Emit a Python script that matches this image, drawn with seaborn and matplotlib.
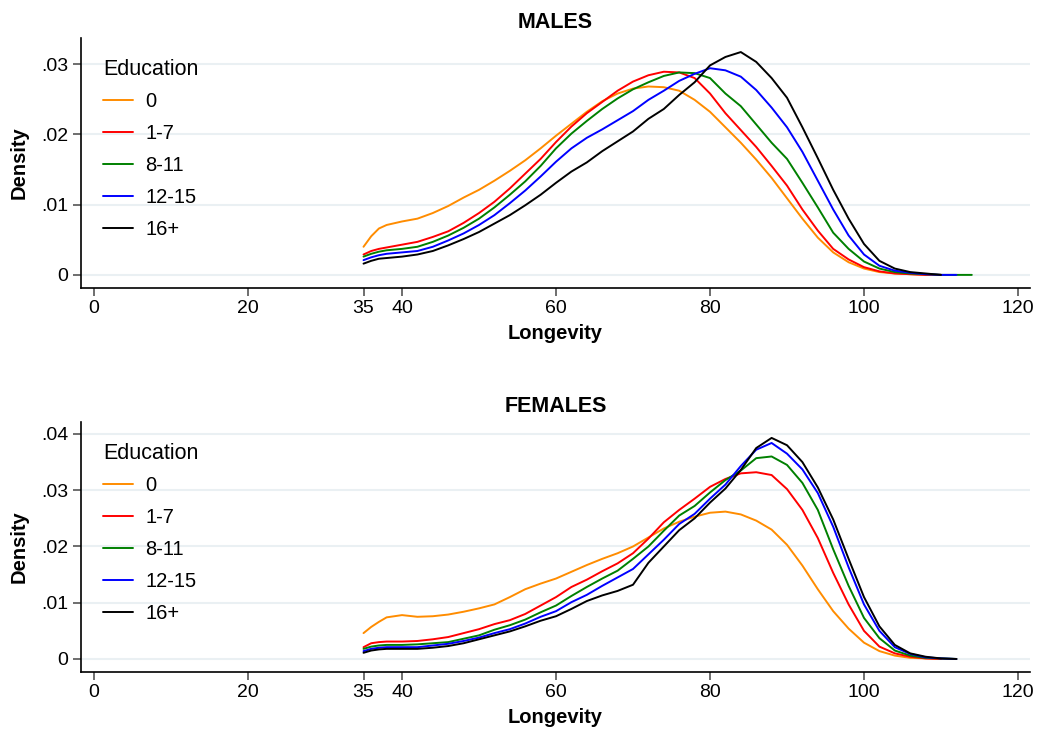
import numpy as np
import pandas as pd
import matplotlib
matplotlib.use("Agg")
import matplotlib.pyplot as plt
import seaborn as sns

nan = np.nan
ages = [35, 36, 37, 38, 40, 42, 44, 46, 48, 50, 52, 54, 56, 58, 60, 62, 64, 66, 68, 70,
        72, 74, 76, 78, 80, 82, 84, 86, 88, 90, 92, 94, 96, 98, 100, 102, 104, 106, 108,
        110, 112, 114]
education = ["0", "1-7", "8-11", "12-15", "16+"]
colors = ["#ff8c00", "#ff0000", "#008000", "#0000ff", "#000000"]

# MALES
m_0 = [.0040, .0055, .0066, .0071, .0076, .0080, .0088, .0098, .0110, .0121, .0134, .0148, .0163, .0180,
       .0198, .0215, .0232, .0247, .0258, .0265, .0268, .0267, .0262, .0249, .0232, .0210, .0188, .0164,
       .0138, .0109, .0080, .0053, .0032, .0018, .0009, .0004, .0002, .0001, 0, 0, nan, nan]
m_1_7 = [.0029, .0034, .0037, .0039, .0043, .0047, .0054, .0062, .0074, .0088, .0104, .0123, .0144, .0165,
         .0189, .0211, .0230, .0246, .0262, .0275, .0284, .0289, .0288, .0280, .0258, .0230, .0206, .0182,
         .0155, .0127, .0093, .0063, .0037, .0022, .0011, .0005, .0002, .0001, 0, 0, nan, nan]
m_8_11 = [.0026, .0030, .0033, .0035, .0037, .0040, .0047, .0056, .0067, .0080, .0096, .0114, .0133, .0155,
          .0180, .0201, .0219, .0236, .0251, .0264, .0274, .0283, .0288, .0287, .0280, .0258, .0240, .0214,
          .0188, .0165, .0131, .0096, .0060, .0037, .0019, .0009, .0004, .0002, .0001, 0, 0, 0]
m_12_15 = [.0021, .0025, .0028, .0030, .0032, .0034, .0040, .0049, .0059, .0071, .0085, .0102, .0120, .0140,
           .0161, .0180, .0195, .0207, .0220, .0233, .0249, .0262, .0276, .0286, .0294, .0291, .0282, .0263,
           .0238, .0210, .0175, .0134, .0093, .0056, .0029, .0013, .0006, .0003, .0001, 0, 0, nan]
m_16 = [.0016, .0020, .0023, .0024, .0026, .0029, .0034, .0042, .0051, .0061, .0073, .0085, .0099, .0114,
        .0131, .0147, .0160, .0176, .0190, .0204, .0222, .0236, .0256, .0274, .0298, .0310, .0317, .0303,
        .0280, .0252, .0210, .0166, .0121, .0080, .0044, .0020, .0009, .0004, .0002, 0, nan, nan]

# FEMALES
f_0 = [.0046, .0057, .0066, .0074, .0078, .0075, .0076, .0079, .0084, .0090, .0097, .0110, .0124, .0134,
       .0143, .0155, .0167, .0178, .0188, .0200, .0216, .0232, .0244, .0253, .0260, .0262, .0257, .0246,
       .0230, .0203, .0166, .0124, .0085, .0054, .0029, .0014, .0006, .0002, .0001, 0, 0, nan]
f_1_7 = [.0021, .0028, .0030, .0031, .0031, .0032, .0035, .0039, .0046, .0053, .0062, .0069, .0080, .0095,
         .0110, .0128, .0141, .0156, .0170, .0188, .0214, .0243, .0265, .0285, .0306, .0320, .0330, .0332,
         .0327, .0302, .0265, .0215, .0153, .0097, .0050, .0022, .0010, .0004, .0001, 0, nan, nan]
f_8_11 = [.0018, .0022, .0024, .0025, .0025, .0026, .0028, .0030, .0036, .0042, .0052, .0060, .0070, .0083,
          .0095, .0112, .0128, .0143, .0157, .0178, .0200, .0228, .0255, .0272, .0296, .0318, .0335, .0357,
          .0360, .0345, .0313, .0265, .0195, .0130, .0073, .0037, .0015, .0006, .0002, .0001, 0, nan]
f_12_15 = [.0014, .0018, .0020, .0021, .0021, .0021, .0024, .0027, .0032, .0038, .0046, .0053, .0063, .0075,
           .0085, .0101, .0114, .0130, .0145, .0160, .0186, .0212, .0240, .0258, .0285, .0310, .0343, .0372,
           .0384, .0365, .0337, .0295, .0235, .0163, .0097, .0050, .0021, .0009, .0003, .0001, 0, nan]
f_16 = [.0011, .0015, .0017, .0018, .0018, .0018, .0020, .0023, .0028, .0035, .0042, .0049, .0058, .0068,
        .0076, .0089, .0103, .0113, .0121, .0132, .0171, .0200, .0229, .0250, .0278, .0303, .0336, .0375,
        .0393, .0380, .0350, .0305, .0248, .0178, .0110, .0058, .0025, .0010, .0004, .0001, 0, nan]

x_ticks = [0, 20, 35, 40, 60, 80, 100, 120]
y_ticks_m = [0, .01, .02, .03]
y_labels_m = ["0", ".01", ".02", ".03"]
y_ticks_f = [0, .01, .02, .03, .04]
y_labels_f = ["0", ".01", ".02", ".03", ".04"]


def long_df(series):
    rows = []
    for edu, vals in zip(education, series):
        for a, v in zip(ages, vals):
            rows.append({"age": a, "density": v, "edu": edu})
    return pd.DataFrame(rows).dropna()


sns.set_style("white")
plt.rcParams["font.family"] = ["Liberation Sans", "DejaVu Sans"]
plt.rcParams["text.color"] = "black"
plt.rcParams["axes.labelcolor"] = "black"
plt.rcParams["xtick.color"] = "black"
plt.rcParams["ytick.color"] = "black"

fig = plt.figure(figsize=(10.4, 7.32), dpi=100)
ax1 = fig.add_axes([0.0779, 0.6066, 0.9125, 0.3415])
ax2 = fig.add_axes([0.0779, 0.0820, 0.9125, 0.3415])

panels = [
    (ax1, [m_0, m_1_7, m_8_11, m_12_15, m_16], "MALES", y_ticks_m, y_labels_m, (-0.00186, 0.0337)),
    (ax2, [f_0, f_1_7, f_8_11, f_12_15, f_16], "FEMALES", y_ticks_f, y_labels_f, (-0.00231, 0.04213)),
]

for ax, series, title, yt, yl, ylim in panels:
    df = long_df(series)
    sns.lineplot(data=df, x="age", y="density", hue="edu", hue_order=education,
                 palette=colors, estimator=None, linewidth=1.4, ax=ax)
    ax.set_xlim(-1.69, 121.56)
    ax.set_ylim(*ylim)
    ax.set_xticks(x_ticks)
    ax.set_xticklabels([str(t) for t in x_ticks])
    ax.set_yticks(yt)
    ax.set_yticklabels(yl)
    ax.grid(axis="y", color="#eaf0f3", linewidth=1.5)
    ax.set_axisbelow(True)
    for s in ["top", "right"]:
        ax.spines[s].set_visible(False)
    for s in ["left", "bottom"]:
        ax.spines[s].set_color("black")
        ax.spines[s].set_linewidth(1.2)
    ax.tick_params(axis="both", which="both", direction="out", length=6, width=1.2,
                   color="#555555", labelcolor="black", labelsize=14, pad=3, left=True, bottom=True)
    ax.set_title(title, fontsize=15.5, fontweight="bold", pad=7)
    ax.set_xlabel("Longevity", fontsize=14.5, fontweight="bold", labelpad=5)
    ax.set_ylabel("Density", fontsize=14.5, fontweight="bold", labelpad=9)
    leg = ax.legend(title="Education", loc="upper left", frameon=False, fontsize=14.5,
                    title_fontsize=15.5, handlelength=1.45, handletextpad=0.65,
                    labelspacing=0.64, bbox_to_anchor=(0.015, 0.95), borderaxespad=0)
    leg._legend_box.align = "left"
    for line in leg.get_lines():
        line.set_linewidth(1.4)

fig.savefig("out.png", dpi=100)
